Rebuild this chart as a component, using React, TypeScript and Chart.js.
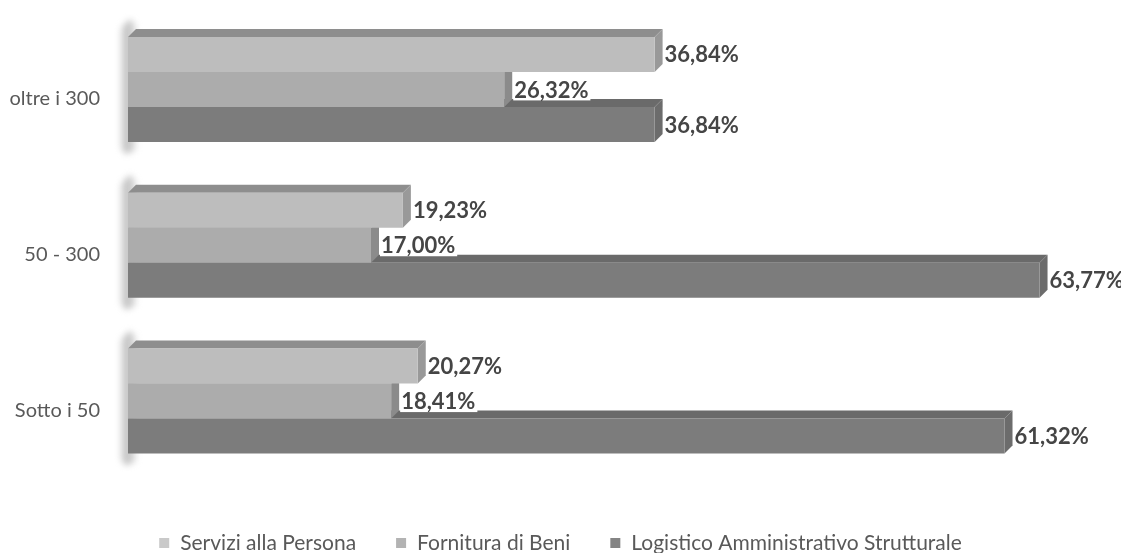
import React, { useEffect, useRef } from "react";
import { Chart, registerables } from "chart.js";

Chart.register(...registerables);

const categories = ["oltre i 300", "50 - 300", "Sotto i 50"];
const seriesNames = ["Servizi alla Persona", "Fornitura di Beni", "Logistico Amministrativo Strutturale"];
const serviziAllaPersona = [36.84, 19.23, 20.27];
const fornituraDiBeni = [26.32, 17.0, 18.41];
const logisticoAmministrativo = [36.84, 63.77, 61.32];
const axisMin = 0;
const axisMax = 68;

const FRONT = ["#bdbdbd", "#acacac", "#7c7c7c"];
const TOP = ["#8e8e8e", "#8a8a8a", "#6a6a6a"];
const SIDE = ["#999999", "#8b8b8b", "#6c6c6c"];
const LEGEND_COL = ["#c9c9c9", "#b3b3b3", "#848484"];
const DEPTH = 8;
const TEXT = "#595959";

const fmt = (v: number) => v.toFixed(2).replace(".", ",") + "%";

const threeD = {
  id: "threeD",
  beforeDatasetsDraw(chart: any) {
    const ctx = chart.ctx;
    const n = chart.data.datasets.length;
    const first = chart.getDatasetMeta(0);
    const last = chart.getDatasetMeta(n - 1);
    const base0 = chart.scales.x.getPixelForValue(0);
    for (let i = 0; i < first.data.length; i++) {
      const a = first.data[i].getProps(["y", "height"], true);
      const b = last.data[i].getProps(["y", "height"], true);
      const top = a.y - a.height / 2 - DEPTH - 10;
      const bot = b.y + b.height / 2 + 12;
      ctx.save();
      ctx.filter = "blur(3px)";
      const g = ctx.createLinearGradient(base0 - 9, 0, base0 + 8, 0);
      g.addColorStop(0, "rgba(180,180,180,0.15)");
      g.addColorStop(0.45, "rgba(160,160,160,0.7)");
      g.addColorStop(1, "rgba(180,180,180,0.35)");
      ctx.fillStyle = g;
      ctx.beginPath();
      ctx.moveTo(base0 - 8, top + 10);
      ctx.lineTo(base0 + 2, top);
      ctx.lineTo(base0 + 8, top + 6);
      ctx.lineTo(base0 + 8, bot - 4);
      ctx.lineTo(base0 - 2, bot);
      ctx.lineTo(base0 - 8, bot - 6);
      ctx.closePath();
      ctx.fill();
      ctx.restore();
    }
    for (let d = n - 1; d >= 0; d--) {
      const meta = chart.getDatasetMeta(d);
      meta.data.forEach((el: any) => {
        const { x, y, base, height } = el.getProps(["x", "y", "base", "height"], true);
        const top = y - height / 2;
        const bot = y + height / 2;
        ctx.save();
        ctx.fillStyle = TOP[d];
        ctx.beginPath();
        ctx.moveTo(base, top);
        ctx.lineTo(base + DEPTH, top - DEPTH);
        ctx.lineTo(x + DEPTH, top - DEPTH);
        ctx.lineTo(x, top);
        ctx.closePath();
        ctx.fill();
        ctx.fillStyle = SIDE[d];
        ctx.beginPath();
        ctx.moveTo(x, top);
        ctx.lineTo(x + DEPTH, top - DEPTH);
        ctx.lineTo(x + DEPTH, bot - DEPTH);
        ctx.lineTo(x, bot);
        ctx.closePath();
        ctx.fill();
        ctx.restore();
      });
    }
  },
  afterDatasetsDraw(chart: any) {
    const ctx = chart.ctx;
    const n = chart.data.datasets.length;
    ctx.save();
    ctx.font = "bold 22px Lato";
    ctx.textBaseline = "middle";
    ctx.textAlign = "left";
    for (let d = n - 1; d >= 0; d--) {
      const meta = chart.getDatasetMeta(d);
      meta.data.forEach((el: any, i: number) => {
        const { x, y } = el.getProps(["x", "y"], true);
        const txt = fmt(chart.data.datasets[d].data[i]);
        const w = ctx.measureText(txt).width;
        const x0 = x + DEPTH + 2;
        ctx.fillStyle = "#ffffff";
        ctx.fillRect(x0 - 1, y - 11, w + 3, 22);
        ctx.fillStyle = "#454545";
        ctx.fillText(txt, x0, y + 1);
      });
    }
    ctx.restore();
  },
  afterDraw(chart: any) {
    const ctx = chart.ctx;
    ctx.save();
    ctx.font = "21px Lato";
    ctx.textBaseline = "alphabetic";
    const box = 10;
    const gapBT = 11;
    const gapItems = 40;
    const widths = seriesNames.map((s) => ctx.measureText(s).width);
    const total = widths.reduce((s, w) => s + box + gapBT + w, 0) + gapItems * (seriesNames.length - 1);
    let x = (chart.width - total) / 2;
    const baseline = 550;
    seriesNames.forEach((s, i) => {
      ctx.fillStyle = LEGEND_COL[i];
      ctx.fillRect(x, baseline - 12, box, box);
      x += box + gapBT;
      ctx.fillStyle = TEXT;
      ctx.fillText(s, x, baseline);
      x += widths[i] + gapItems;
    });
    ctx.restore();
  },
};

export default function App() {
  const ref = useRef<HTMLCanvasElement | null>(null);
  useEffect(() => {
    if (!ref.current) return;
    const series = [serviziAllaPersona, fornituraDiBeni, logisticoAmministrativo];
    const chart = new Chart(ref.current, {
      type: "bar",
      data: {
        labels: categories,
        datasets: series.map((data, i) => ({
          label: seriesNames[i],
          data,
          backgroundColor: FRONT[i],
          borderWidth: 0,
          barPercentage: 1,
          categoryPercentage: 0.674,
        })),
      },
      options: {
        indexAxis: "y",
        animation: false,
        responsive: true,
        maintainAspectRatio: false,
        layout: { padding: { left: 0, right: 21, top: 11.5, bottom: 74 } },
        plugins: {
          legend: { display: false },
          tooltip: { enabled: false },
        },
        scales: {
          x: {
            display: false,
            min: axisMin,
            max: axisMax,
          },
          y: {
            position: "left",
            grid: { display: false, drawTicks: false },
            border: { display: false },
            ticks: {
              font: { family: "Lato", size: 20 },
              color: TEXT,
              padding: 28,
              labelOffset: 9,
            },
            afterFit: (scale: any) => {
              scale.width = 128;
              scale.paddingTop = 0;
              scale.paddingBottom = 0;
            },
          },
        },
      },
      plugins: [threeD],
    } as any);
    return () => chart.destroy();
  }, []);
  return (
    <div style={{ position: "fixed", left: 0, top: 0, width: 1121, height: 553, background: "#ffffff" }}>
      <canvas ref={ref} />
    </div>
  );
}
